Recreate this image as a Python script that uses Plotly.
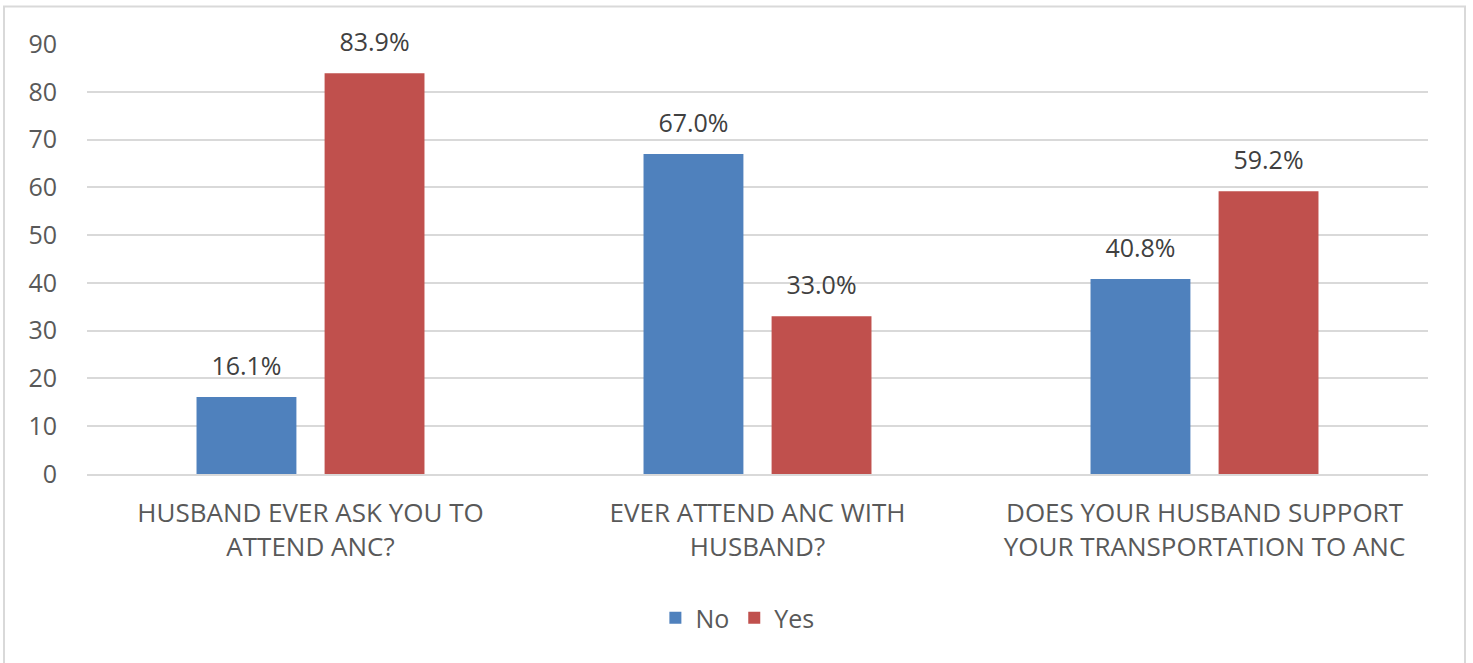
import plotly.graph_objects as go

categories = ["HUSBAND EVER ASK YOU TO<br>ATTEND ANC?",
              "EVER ATTEND ANC WITH<br>HUSBAND?",
              "DOES YOUR HUSBAND SUPPORT<br>YOUR TRANSPORTATION TO ANC"]
no_vals = [16.1, 67.0, 40.8]
yes_vals = [83.9, 33.0, 59.2]
y_ticks = [0, 10, 20, 30, 40, 50, 60, 70, 80, 90]

FONT = "Open Sans, Noto Sans, Liberation Sans, sans-serif"
GREY = "#595959"
LBL = "#404040"
series = [("No", no_vals, "#4f81bd"), ("Yes", yes_vals, "#c0504d")]

fig = go.Figure()
for name, vals, col in series:
    fig.add_trace(go.Bar(name=name, x=categories, y=vals, offsetgroup=name,
                         marker=dict(color=col, line=dict(width=0))))
for name, vals, col in series:
    fig.add_trace(go.Scatter(x=categories, y=vals, offsetgroup=name,
                             mode="markers+text", showlegend=False,
                             marker=dict(size=24, opacity=0),
                             text=[f"{v:.1f}%" for v in vals],
                             textposition="top center",
                             textfont=dict(size=25, color=LBL, family=FONT),
                             cliponaxis=False, hoverinfo="skip"))

fig.update_layout(
    width=1473, height=663,
    margin=dict(l=87, r=45, t=44, b=189, autoexpand=False),
    paper_bgcolor="white", plot_bgcolor="white",
    barmode="group", bargap=0.427, bargroupgap=0.22,
    scattermode="group", scattergap=0.427,
    font=dict(family=FONT, color=GREY, size=25),
    xaxis=dict(showline=True, linecolor="#d9d9d9", linewidth=2,
               tickfont=dict(size=26, color=GREY), ticks="",
               ticklabelstandoff=15),
    yaxis=dict(range=[0, 90], tickvals=y_ticks, showgrid=True,
               gridcolor="#d9d9d9", gridwidth=2, zeroline=False,
               tickfont=dict(size=25, color=GREY), ticks="",
               ticklabelstandoff=29),
    legend=dict(orientation="h", x=0.485, xanchor="center", y=-0.335,
                yanchor="middle", font=dict(size=25, color=GREY),
                itemwidth=30, traceorder="normal"),
    showlegend=True,
    shapes=[dict(type="rect", xref="paper", yref="paper",
                 x0=-0.0619, x1=1.0276, y0=-0.45, y1=1.087,
                 line=dict(color="#d9d9d9", width=2), layer="below")],
)

fig.write_html("out.html")
